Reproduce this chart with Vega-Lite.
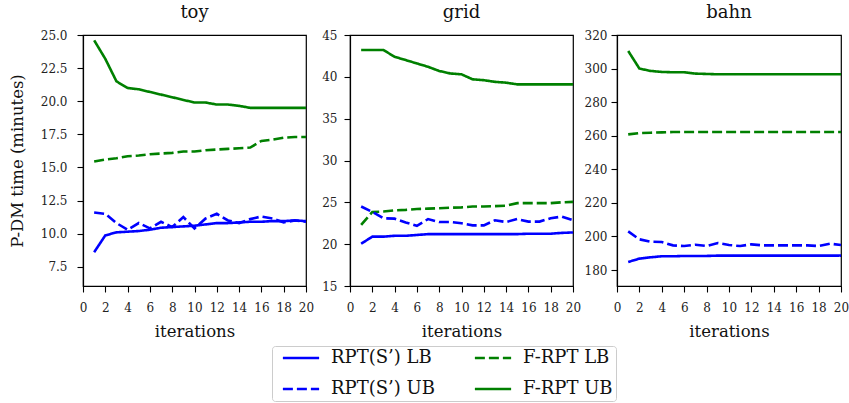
{
  "$schema": "https://vega.github.io/schema/vega-lite/v6.json",
  "padding": {"left": 8, "top": 3, "right": 0, "bottom": 0},
  "background": "white",
  "config": {
    "font": "DejaVu Serif",
    "view": {"stroke": "black", "strokeWidth": 1.2},
    "axis": {"domainColor": "black", "domainWidth": 1.2, "tickColor": "black", "tickWidth": 1.1, "tickSize": 6, "labelColor": "#222", "titleColor": "#111", "grid": false, "labelFont": "DejaVu Serif", "titleFont": "DejaVu Serif", "labelFontSize": 12, "titleFontSize": 16.5, "titleFontWeight": "normal", "labelOverlap": false, "labelFlush": false},
    "axisX": {"labelPadding": 10, "titlePadding": 10},
    "axisY": {"labelPadding": 10, "titlePadding": 15},
    "title": {"font": "DejaVu Serif", "fontSize": 18, "fontWeight": "normal", "color": "#111", "offset": 7},
    "legend": {"title": null, "orient": "none", "legendX": 189, "legendY": 311, "columns": 2, "columnPadding": 32, "rowPadding": 13, "symbolType": "M-2.5,0H2.5", "symbolSize": 210, "symbolOffset": 17, "symbolStrokeWidth": 2.6, "labelFontSize": 18, "labelFont": "DejaVu Serif", "labelColor": "#111", "labelOffset": 21, "padding": 3, "strokeColor": "#cccccc", "cornerRadius": 3, "fillColor": "white"}
  },
  "data": {"values": [
    {"p":"toy","s":"F-RPT UB","x":1,"y":24.6},{"p":"toy","s":"F-RPT UB","x":2,"y":23.2},{"p":"toy","s":"F-RPT UB","x":3,"y":21.5},{"p":"toy","s":"F-RPT UB","x":4,"y":21.0},{"p":"toy","s":"F-RPT UB","x":5,"y":20.9},{"p":"toy","s":"F-RPT UB","x":6,"y":20.7},{"p":"toy","s":"F-RPT UB","x":7,"y":20.5},{"p":"toy","s":"F-RPT UB","x":8,"y":20.3},{"p":"toy","s":"F-RPT UB","x":9,"y":20.1},{"p":"toy","s":"F-RPT UB","x":10,"y":19.9},{"p":"toy","s":"F-RPT UB","x":11,"y":19.9},{"p":"toy","s":"F-RPT UB","x":12,"y":19.75},{"p":"toy","s":"F-RPT UB","x":13,"y":19.75},{"p":"toy","s":"F-RPT UB","x":14,"y":19.65},{"p":"toy","s":"F-RPT UB","x":15,"y":19.5},{"p":"toy","s":"F-RPT UB","x":16,"y":19.5},{"p":"toy","s":"F-RPT UB","x":17,"y":19.5},{"p":"toy","s":"F-RPT UB","x":18,"y":19.5},{"p":"toy","s":"F-RPT UB","x":19,"y":19.5},{"p":"toy","s":"F-RPT UB","x":20,"y":19.5},
    {"p":"toy","s":"F-RPT LB","x":1,"y":15.45},{"p":"toy","s":"F-RPT LB","x":2,"y":15.6},{"p":"toy","s":"F-RPT LB","x":3,"y":15.7},{"p":"toy","s":"F-RPT LB","x":4,"y":15.85},{"p":"toy","s":"F-RPT LB","x":5,"y":15.9},{"p":"toy","s":"F-RPT LB","x":6,"y":16.0},{"p":"toy","s":"F-RPT LB","x":7,"y":16.05},{"p":"toy","s":"F-RPT LB","x":8,"y":16.1},{"p":"toy","s":"F-RPT LB","x":9,"y":16.2},{"p":"toy","s":"F-RPT LB","x":10,"y":16.2},{"p":"toy","s":"F-RPT LB","x":11,"y":16.3},{"p":"toy","s":"F-RPT LB","x":12,"y":16.35},{"p":"toy","s":"F-RPT LB","x":13,"y":16.4},{"p":"toy","s":"F-RPT LB","x":14,"y":16.45},{"p":"toy","s":"F-RPT LB","x":15,"y":16.5},{"p":"toy","s":"F-RPT LB","x":16,"y":17.0},{"p":"toy","s":"F-RPT LB","x":17,"y":17.1},{"p":"toy","s":"F-RPT LB","x":18,"y":17.25},{"p":"toy","s":"F-RPT LB","x":19,"y":17.3},{"p":"toy","s":"F-RPT LB","x":20,"y":17.3},
    {"p":"toy","s":"RPT(S’) LB","x":1,"y":8.6},{"p":"toy","s":"RPT(S’) LB","x":2,"y":9.87},{"p":"toy","s":"RPT(S’) LB","x":3,"y":10.1},{"p":"toy","s":"RPT(S’) LB","x":4,"y":10.15},{"p":"toy","s":"RPT(S’) LB","x":5,"y":10.2},{"p":"toy","s":"RPT(S’) LB","x":6,"y":10.3},{"p":"toy","s":"RPT(S’) LB","x":7,"y":10.45},{"p":"toy","s":"RPT(S’) LB","x":8,"y":10.5},{"p":"toy","s":"RPT(S’) LB","x":9,"y":10.55},{"p":"toy","s":"RPT(S’) LB","x":10,"y":10.6},{"p":"toy","s":"RPT(S’) LB","x":11,"y":10.7},{"p":"toy","s":"RPT(S’) LB","x":12,"y":10.8},{"p":"toy","s":"RPT(S’) LB","x":13,"y":10.8},{"p":"toy","s":"RPT(S’) LB","x":14,"y":10.85},{"p":"toy","s":"RPT(S’) LB","x":15,"y":10.9},{"p":"toy","s":"RPT(S’) LB","x":16,"y":10.9},{"p":"toy","s":"RPT(S’) LB","x":17,"y":10.95},{"p":"toy","s":"RPT(S’) LB","x":18,"y":10.95},{"p":"toy","s":"RPT(S’) LB","x":19,"y":11.0},{"p":"toy","s":"RPT(S’) LB","x":20,"y":10.95},
    {"p":"toy","s":"RPT(S’) UB","x":1,"y":11.6},{"p":"toy","s":"RPT(S’) UB","x":2,"y":11.5},{"p":"toy","s":"RPT(S’) UB","x":3,"y":10.8},{"p":"toy","s":"RPT(S’) UB","x":4,"y":10.3},{"p":"toy","s":"RPT(S’) UB","x":5,"y":10.8},{"p":"toy","s":"RPT(S’) UB","x":6,"y":10.4},{"p":"toy","s":"RPT(S’) UB","x":7,"y":10.9},{"p":"toy","s":"RPT(S’) UB","x":8,"y":10.5},{"p":"toy","s":"RPT(S’) UB","x":9,"y":11.25},{"p":"toy","s":"RPT(S’) UB","x":10,"y":10.4},{"p":"toy","s":"RPT(S’) UB","x":11,"y":11.15},{"p":"toy","s":"RPT(S’) UB","x":12,"y":11.5},{"p":"toy","s":"RPT(S’) UB","x":13,"y":11.0},{"p":"toy","s":"RPT(S’) UB","x":14,"y":10.8},{"p":"toy","s":"RPT(S’) UB","x":15,"y":11.1},{"p":"toy","s":"RPT(S’) UB","x":16,"y":11.3},{"p":"toy","s":"RPT(S’) UB","x":17,"y":11.15},{"p":"toy","s":"RPT(S’) UB","x":18,"y":10.85},{"p":"toy","s":"RPT(S’) UB","x":19,"y":11.0},{"p":"toy","s":"RPT(S’) UB","x":20,"y":10.9},
    {"p":"grid","s":"F-RPT UB","x":1,"y":43.2},{"p":"grid","s":"F-RPT UB","x":2,"y":43.2},{"p":"grid","s":"F-RPT UB","x":3,"y":43.2},{"p":"grid","s":"F-RPT UB","x":4,"y":42.4},{"p":"grid","s":"F-RPT UB","x":5,"y":42.0},{"p":"grid","s":"F-RPT UB","x":6,"y":41.6},{"p":"grid","s":"F-RPT UB","x":7,"y":41.2},{"p":"grid","s":"F-RPT UB","x":8,"y":40.7},{"p":"grid","s":"F-RPT UB","x":9,"y":40.4},{"p":"grid","s":"F-RPT UB","x":10,"y":40.3},{"p":"grid","s":"F-RPT UB","x":11,"y":39.7},{"p":"grid","s":"F-RPT UB","x":12,"y":39.6},{"p":"grid","s":"F-RPT UB","x":13,"y":39.4},{"p":"grid","s":"F-RPT UB","x":14,"y":39.3},{"p":"grid","s":"F-RPT UB","x":15,"y":39.1},{"p":"grid","s":"F-RPT UB","x":16,"y":39.1},{"p":"grid","s":"F-RPT UB","x":17,"y":39.1},{"p":"grid","s":"F-RPT UB","x":18,"y":39.1},{"p":"grid","s":"F-RPT UB","x":19,"y":39.1},{"p":"grid","s":"F-RPT UB","x":20,"y":39.1},
    {"p":"grid","s":"F-RPT LB","x":1,"y":22.3},{"p":"grid","s":"F-RPT LB","x":2,"y":23.85},{"p":"grid","s":"F-RPT LB","x":3,"y":23.9},{"p":"grid","s":"F-RPT LB","x":4,"y":24.05},{"p":"grid","s":"F-RPT LB","x":5,"y":24.1},{"p":"grid","s":"F-RPT LB","x":6,"y":24.2},{"p":"grid","s":"F-RPT LB","x":7,"y":24.25},{"p":"grid","s":"F-RPT LB","x":8,"y":24.3},{"p":"grid","s":"F-RPT LB","x":9,"y":24.35},{"p":"grid","s":"F-RPT LB","x":10,"y":24.4},{"p":"grid","s":"F-RPT LB","x":11,"y":24.5},{"p":"grid","s":"F-RPT LB","x":12,"y":24.5},{"p":"grid","s":"F-RPT LB","x":13,"y":24.55},{"p":"grid","s":"F-RPT LB","x":14,"y":24.6},{"p":"grid","s":"F-RPT LB","x":15,"y":24.9},{"p":"grid","s":"F-RPT LB","x":16,"y":24.9},{"p":"grid","s":"F-RPT LB","x":17,"y":24.9},{"p":"grid","s":"F-RPT LB","x":18,"y":24.9},{"p":"grid","s":"F-RPT LB","x":19,"y":25.0},{"p":"grid","s":"F-RPT LB","x":20,"y":25.05},
    {"p":"grid","s":"RPT(S’) UB","x":1,"y":24.5},{"p":"grid","s":"RPT(S’) UB","x":2,"y":23.85},{"p":"grid","s":"RPT(S’) UB","x":3,"y":23.1},{"p":"grid","s":"RPT(S’) UB","x":4,"y":23.05},{"p":"grid","s":"RPT(S’) UB","x":5,"y":22.6},{"p":"grid","s":"RPT(S’) UB","x":6,"y":22.2},{"p":"grid","s":"RPT(S’) UB","x":7,"y":23.0},{"p":"grid","s":"RPT(S’) UB","x":8,"y":22.65},{"p":"grid","s":"RPT(S’) UB","x":9,"y":22.65},{"p":"grid","s":"RPT(S’) UB","x":10,"y":22.5},{"p":"grid","s":"RPT(S’) UB","x":11,"y":22.25},{"p":"grid","s":"RPT(S’) UB","x":12,"y":22.25},{"p":"grid","s":"RPT(S’) UB","x":13,"y":22.85},{"p":"grid","s":"RPT(S’) UB","x":14,"y":22.65},{"p":"grid","s":"RPT(S’) UB","x":15,"y":23.0},{"p":"grid","s":"RPT(S’) UB","x":16,"y":22.7},{"p":"grid","s":"RPT(S’) UB","x":17,"y":22.7},{"p":"grid","s":"RPT(S’) UB","x":18,"y":23.1},{"p":"grid","s":"RPT(S’) UB","x":19,"y":23.3},{"p":"grid","s":"RPT(S’) UB","x":20,"y":22.85},
    {"p":"grid","s":"RPT(S’) LB","x":1,"y":20.05},{"p":"grid","s":"RPT(S’) LB","x":2,"y":20.9},{"p":"grid","s":"RPT(S’) LB","x":3,"y":20.9},{"p":"grid","s":"RPT(S’) LB","x":4,"y":21.0},{"p":"grid","s":"RPT(S’) LB","x":5,"y":21.0},{"p":"grid","s":"RPT(S’) LB","x":6,"y":21.1},{"p":"grid","s":"RPT(S’) LB","x":7,"y":21.2},{"p":"grid","s":"RPT(S’) LB","x":8,"y":21.2},{"p":"grid","s":"RPT(S’) LB","x":9,"y":21.2},{"p":"grid","s":"RPT(S’) LB","x":10,"y":21.2},{"p":"grid","s":"RPT(S’) LB","x":11,"y":21.2},{"p":"grid","s":"RPT(S’) LB","x":12,"y":21.2},{"p":"grid","s":"RPT(S’) LB","x":13,"y":21.2},{"p":"grid","s":"RPT(S’) LB","x":14,"y":21.2},{"p":"grid","s":"RPT(S’) LB","x":15,"y":21.2},{"p":"grid","s":"RPT(S’) LB","x":16,"y":21.25},{"p":"grid","s":"RPT(S’) LB","x":17,"y":21.25},{"p":"grid","s":"RPT(S’) LB","x":18,"y":21.25},{"p":"grid","s":"RPT(S’) LB","x":19,"y":21.35},{"p":"grid","s":"RPT(S’) LB","x":20,"y":21.4},
    {"p":"bahn","s":"F-RPT UB","x":1,"y":310.5},{"p":"bahn","s":"F-RPT UB","x":2,"y":300},{"p":"bahn","s":"F-RPT UB","x":3,"y":298.6},{"p":"bahn","s":"F-RPT UB","x":4,"y":298},{"p":"bahn","s":"F-RPT UB","x":5,"y":297.8},{"p":"bahn","s":"F-RPT UB","x":6,"y":297.8},{"p":"bahn","s":"F-RPT UB","x":7,"y":297},{"p":"bahn","s":"F-RPT UB","x":8,"y":296.8},{"p":"bahn","s":"F-RPT UB","x":9,"y":296.6},{"p":"bahn","s":"F-RPT UB","x":10,"y":296.6},{"p":"bahn","s":"F-RPT UB","x":11,"y":296.6},{"p":"bahn","s":"F-RPT UB","x":12,"y":296.6},{"p":"bahn","s":"F-RPT UB","x":13,"y":296.6},{"p":"bahn","s":"F-RPT UB","x":14,"y":296.6},{"p":"bahn","s":"F-RPT UB","x":15,"y":296.6},{"p":"bahn","s":"F-RPT UB","x":16,"y":296.6},{"p":"bahn","s":"F-RPT UB","x":17,"y":296.6},{"p":"bahn","s":"F-RPT UB","x":18,"y":296.6},{"p":"bahn","s":"F-RPT UB","x":19,"y":296.6},{"p":"bahn","s":"F-RPT UB","x":20,"y":296.6},
    {"p":"bahn","s":"F-RPT LB","x":1,"y":260.8},{"p":"bahn","s":"F-RPT LB","x":2,"y":261.6},{"p":"bahn","s":"F-RPT LB","x":3,"y":261.8},{"p":"bahn","s":"F-RPT LB","x":4,"y":262},{"p":"bahn","s":"F-RPT LB","x":5,"y":262.2},{"p":"bahn","s":"F-RPT LB","x":6,"y":262.2},{"p":"bahn","s":"F-RPT LB","x":7,"y":262.2},{"p":"bahn","s":"F-RPT LB","x":8,"y":262.2},{"p":"bahn","s":"F-RPT LB","x":9,"y":262.2},{"p":"bahn","s":"F-RPT LB","x":10,"y":262.2},{"p":"bahn","s":"F-RPT LB","x":11,"y":262.2},{"p":"bahn","s":"F-RPT LB","x":12,"y":262.2},{"p":"bahn","s":"F-RPT LB","x":13,"y":262.2},{"p":"bahn","s":"F-RPT LB","x":14,"y":262.2},{"p":"bahn","s":"F-RPT LB","x":15,"y":262.2},{"p":"bahn","s":"F-RPT LB","x":16,"y":262.2},{"p":"bahn","s":"F-RPT LB","x":17,"y":262.2},{"p":"bahn","s":"F-RPT LB","x":18,"y":262.2},{"p":"bahn","s":"F-RPT LB","x":19,"y":262.2},{"p":"bahn","s":"F-RPT LB","x":20,"y":262.2},
    {"p":"bahn","s":"RPT(S’) UB","x":1,"y":203},{"p":"bahn","s":"RPT(S’) UB","x":2,"y":198.3},{"p":"bahn","s":"RPT(S’) UB","x":3,"y":196.9},{"p":"bahn","s":"RPT(S’) UB","x":4,"y":196.7},{"p":"bahn","s":"RPT(S’) UB","x":5,"y":194.7},{"p":"bahn","s":"RPT(S’) UB","x":6,"y":194.3},{"p":"bahn","s":"RPT(S’) UB","x":7,"y":195.1},{"p":"bahn","s":"RPT(S’) UB","x":8,"y":194.3},{"p":"bahn","s":"RPT(S’) UB","x":9,"y":196.1},{"p":"bahn","s":"RPT(S’) UB","x":10,"y":194.9},{"p":"bahn","s":"RPT(S’) UB","x":11,"y":194.3},{"p":"bahn","s":"RPT(S’) UB","x":12,"y":195.3},{"p":"bahn","s":"RPT(S’) UB","x":13,"y":194.7},{"p":"bahn","s":"RPT(S’) UB","x":14,"y":194.7},{"p":"bahn","s":"RPT(S’) UB","x":15,"y":194.7},{"p":"bahn","s":"RPT(S’) UB","x":16,"y":194.7},{"p":"bahn","s":"RPT(S’) UB","x":17,"y":194.7},{"p":"bahn","s":"RPT(S’) UB","x":18,"y":194.3},{"p":"bahn","s":"RPT(S’) UB","x":19,"y":195.7},{"p":"bahn","s":"RPT(S’) UB","x":20,"y":194.9},
    {"p":"bahn","s":"RPT(S’) LB","x":1,"y":184.8},{"p":"bahn","s":"RPT(S’) LB","x":2,"y":186.8},{"p":"bahn","s":"RPT(S’) LB","x":3,"y":187.6},{"p":"bahn","s":"RPT(S’) LB","x":4,"y":188.2},{"p":"bahn","s":"RPT(S’) LB","x":5,"y":188.2},{"p":"bahn","s":"RPT(S’) LB","x":6,"y":188.4},{"p":"bahn","s":"RPT(S’) LB","x":7,"y":188.4},{"p":"bahn","s":"RPT(S’) LB","x":8,"y":188.4},{"p":"bahn","s":"RPT(S’) LB","x":9,"y":188.6},{"p":"bahn","s":"RPT(S’) LB","x":10,"y":188.6},{"p":"bahn","s":"RPT(S’) LB","x":11,"y":188.6},{"p":"bahn","s":"RPT(S’) LB","x":12,"y":188.6},{"p":"bahn","s":"RPT(S’) LB","x":13,"y":188.6},{"p":"bahn","s":"RPT(S’) LB","x":14,"y":188.6},{"p":"bahn","s":"RPT(S’) LB","x":15,"y":188.6},{"p":"bahn","s":"RPT(S’) LB","x":16,"y":188.6},{"p":"bahn","s":"RPT(S’) LB","x":17,"y":188.6},{"p":"bahn","s":"RPT(S’) LB","x":18,"y":188.6},{"p":"bahn","s":"RPT(S’) LB","x":19,"y":188.6},{"p":"bahn","s":"RPT(S’) LB","x":20,"y":188.6}
  ]},
  "bounds": "flush",
  "spacing": 44,
  "resolve": {"scale": {"y": "independent", "x": "independent", "color": "shared", "strokeDash": "shared"}, "legend": {"color": "shared", "strokeDash": "shared"}},
  "hconcat": [
    {
      "title": "toy",
      "width": 223, "height": 251,
      "transform": [{"filter": "datum.p === 'toy'"}],
      "mark": {"type": "line", "strokeWidth": 2.6, "clip": true},
      "encoding": {
        "x": {"field": "x", "type": "quantitative", "scale": {"domain": [0, 20], "nice": false}, "axis": {"values": [0,2,4,6,8,10,12,14,16,18,20], "title": "iterations"}},
        "y": {"field": "y", "type": "quantitative", "scale": {"domain": [6.05, 25], "nice": false, "zero": false}, "axis": {"values": [7.5,10,12.5,15,17.5,20,22.5,25], "format": ".1f", "title": "P-DM time (minutes)"}},
        "color": {"field": "s", "type": "nominal", "scale": {"domain": ["RPT(S’) LB", "RPT(S’) UB", "F-RPT LB", "F-RPT UB"], "range": ["#0000ff", "#0000ff", "#008000", "#008000"]}},
        "strokeDash": {"field": "s", "type": "nominal", "scale": {"domain": ["RPT(S’) LB", "RPT(S’) UB", "F-RPT LB", "F-RPT UB"], "range": [[1, 0], [10, 4], [10, 4], [1, 0]]}}
      }
    },
    {
      "title": "grid",
      "width": 223, "height": 251,
      "transform": [{"filter": "datum.p === 'grid'"}],
      "mark": {"type": "line", "strokeWidth": 2.6, "clip": true},
      "encoding": {
        "x": {"field": "x", "type": "quantitative", "scale": {"domain": [0, 20], "nice": false}, "axis": {"values": [0,2,4,6,8,10,12,14,16,18,20], "title": "iterations"}},
        "y": {"field": "y", "type": "quantitative", "scale": {"domain": [15, 45], "nice": false, "zero": false}, "axis": {"values": [15,20,25,30,35,40,45], "title": null, "labelPadding": 7}},
        "color": {"field": "s", "type": "nominal"},
        "strokeDash": {"field": "s", "type": "nominal"}
      }
    },
    {
      "title": "bahn",
      "width": 224, "height": 251,
      "transform": [{"filter": "datum.p === 'bahn'"}],
      "mark": {"type": "line", "strokeWidth": 2.6, "clip": true},
      "encoding": {
        "x": {"field": "x", "type": "quantitative", "scale": {"domain": [0, 20], "nice": false}, "axis": {"values": [0,2,4,6,8,10,12,14,16,18,20], "title": "iterations"}},
        "y": {"field": "y", "type": "quantitative", "scale": {"domain": [170.5, 320], "nice": false, "zero": false}, "axis": {"values": [180,200,220,240,260,280,300,320], "title": null, "labelPadding": 4}},
        "color": {"field": "s", "type": "nominal"},
        "strokeDash": {"field": "s", "type": "nominal"}
      }
    }
  ]
}
